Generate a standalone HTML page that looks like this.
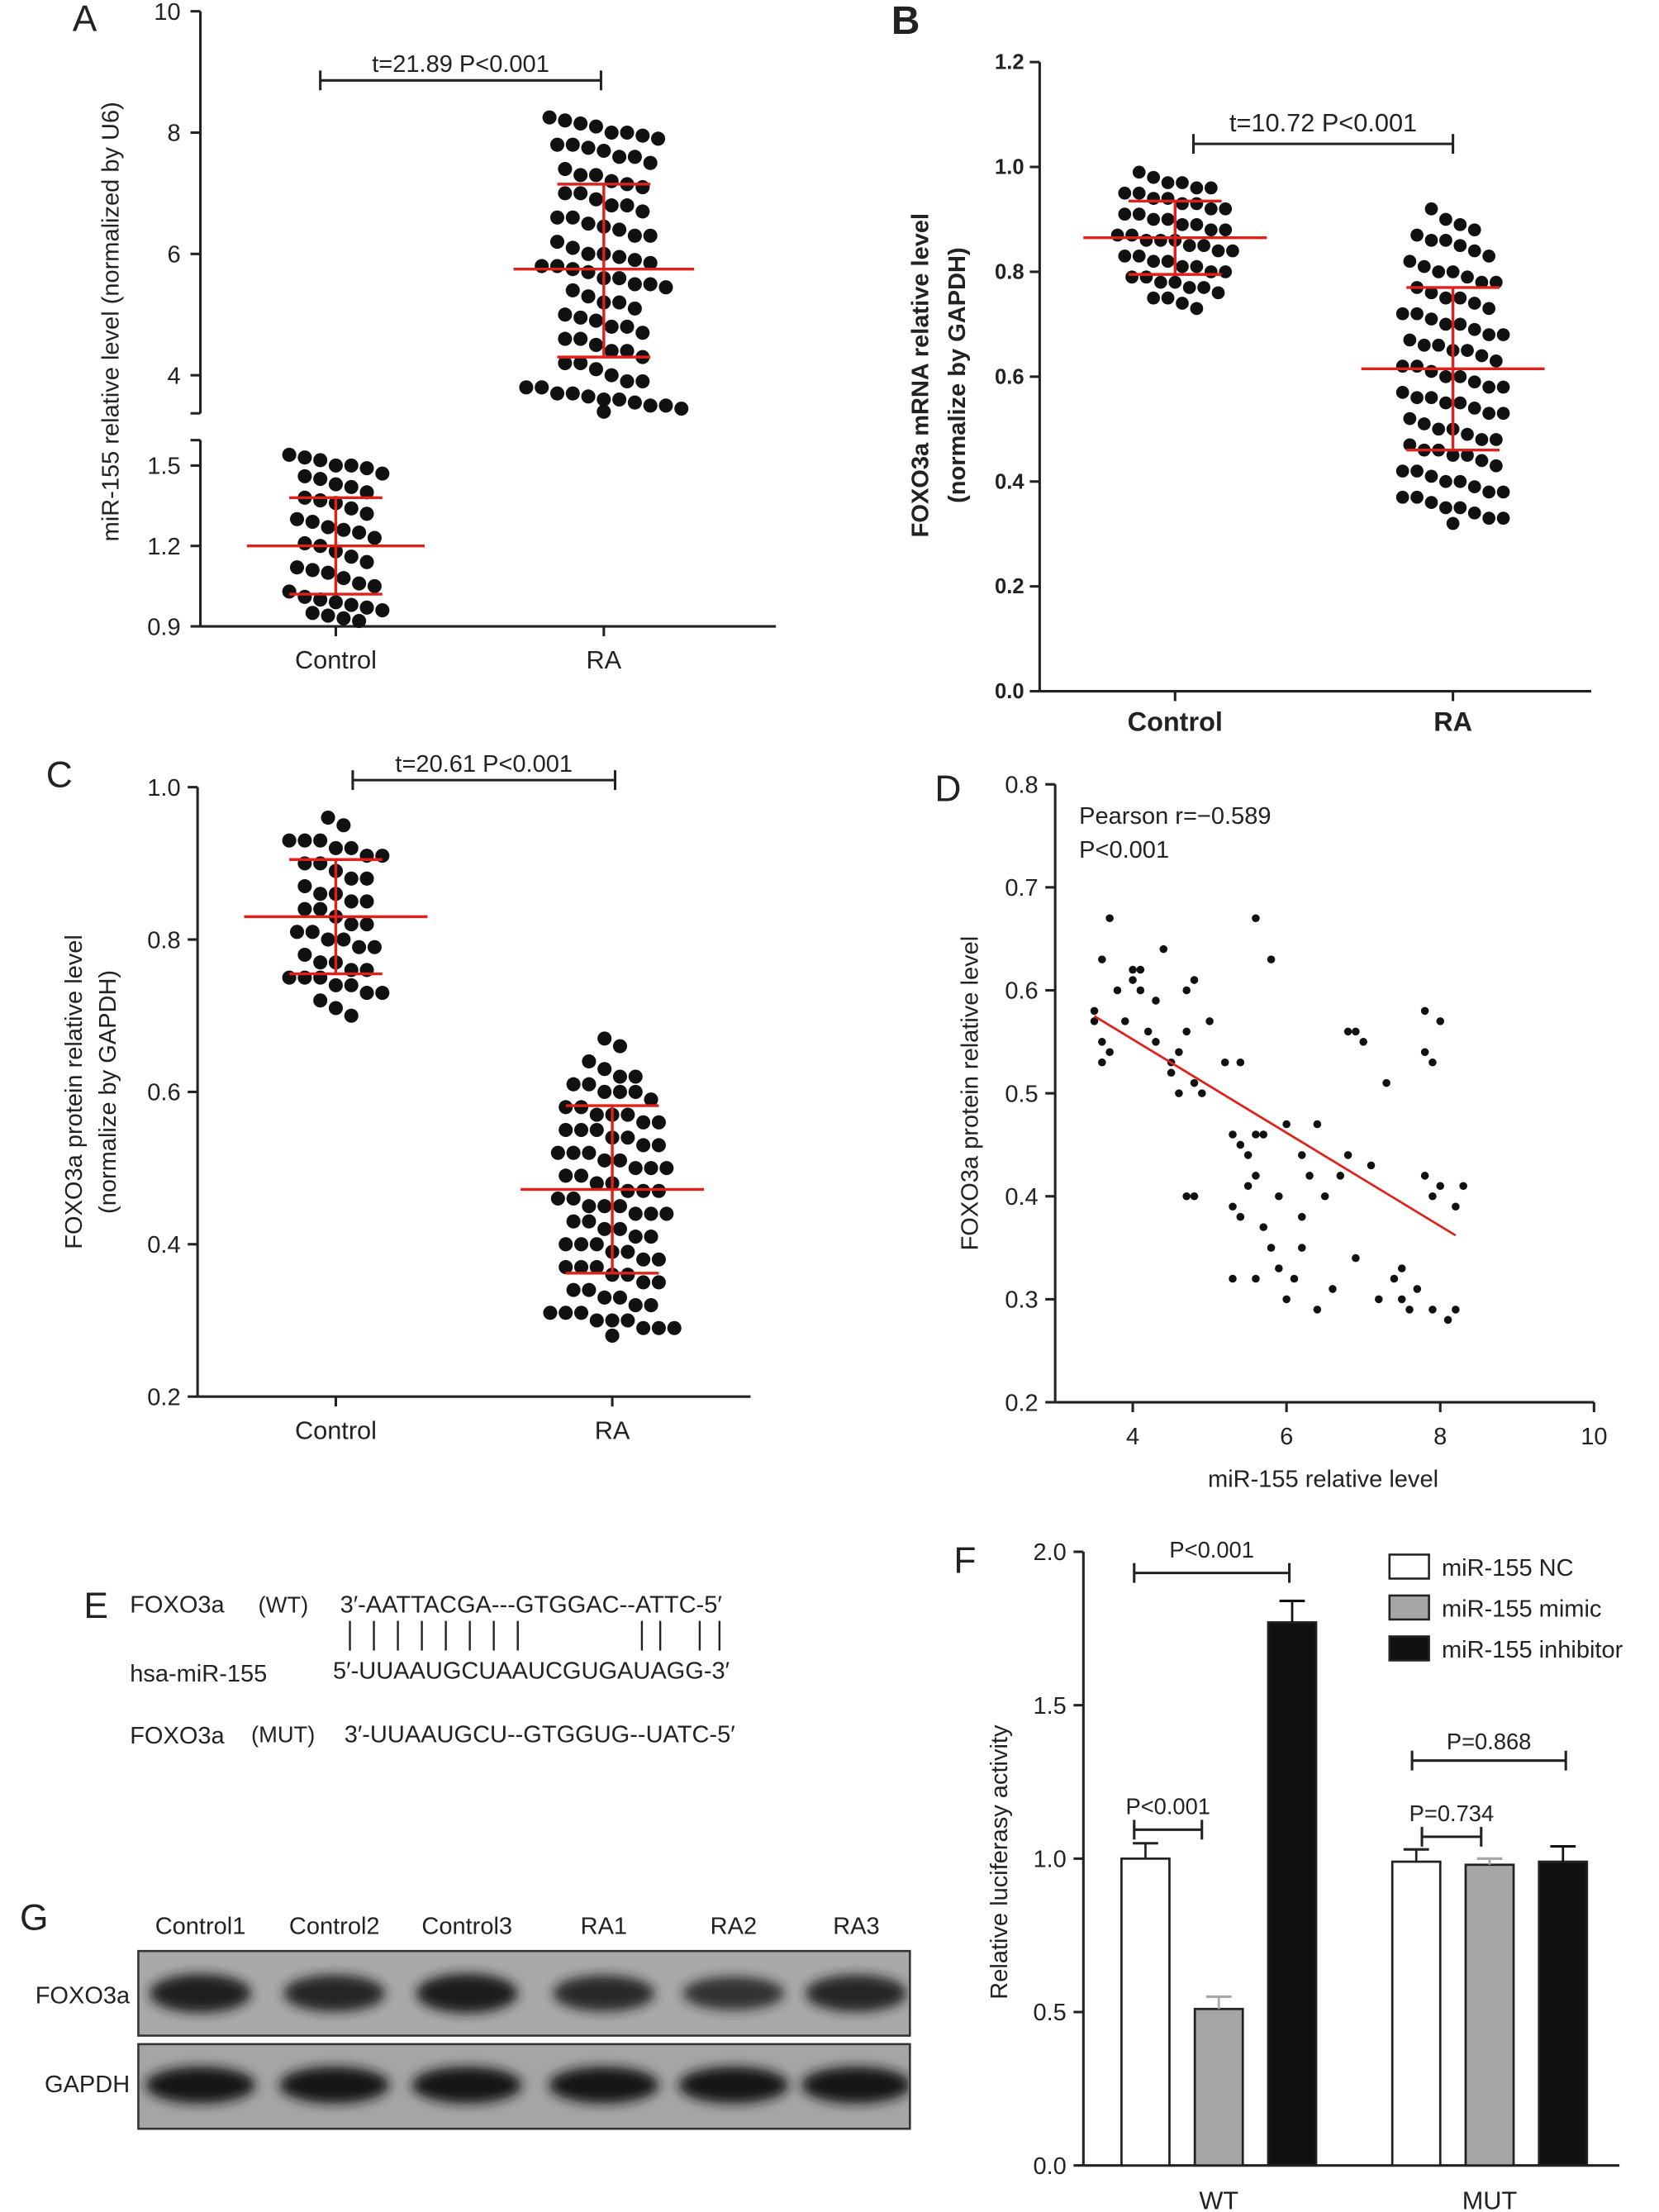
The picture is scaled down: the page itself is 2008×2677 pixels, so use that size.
<!DOCTYPE html>
<html><head><meta charset="utf-8">
<style>
html,body{margin:0;padding:0;background:#fff;}
svg{display:block;}
text{font-family:"Liberation Sans",Arial,sans-serif;fill:#222;}
</style></head>
<body>
<svg id="fig" width="2008" height="2677" viewBox="0 0 1176 1568" xmlns="http://www.w3.org/2000/svg">
<defs><filter id="blur" x="-30%" y="-60%" width="160%" height="220%"><feGaussianBlur stdDeviation="4"/></filter>
<clipPath id="clipF"><rect x="99" y="1384" width="545" height="58"/></clipPath>
<clipPath id="clipG"><rect x="99" y="1450" width="545" height="58"/></clipPath></defs>
</svg>
<script>
// ---------- DATA ----------
const groups = ["Control","RA"];
const aControl=[1.54,1.53,1.52,1.50,1.50,1.49,1.47,1.46,1.45,1.43,1.42,1.40,1.38,1.37,1.36,1.34,1.32,1.30,1.29,1.27,1.25,1.23,1.21,1.20,1.18,1.16,1.14,1.12,1.10,1.08,1.06,1.05,1.03,1.01,1.00,0.99,0.98,0.97,0.96,0.95,0.94,0.93,0.92,1.26,1.11];
const aRA=[8.25,8.2,8.15,8.0,8.0,7.95,7.9,7.8,7.75,7.7,7.6,7.5,7.4,7.3,7.2,7.15,7.1,7.0,6.9,6.8,6.7,6.6,6.5,6.45,6.4,6.3,6.2,6.1,6.0,5.95,5.9,5.85,5.8,5.75,5.7,5.6,5.5,5.45,5.4,5.3,5.2,5.1,5.0,4.95,4.9,4.8,4.7,4.6,4.5,4.4,4.3,4.2,4.1,4.0,3.9,3.8,3.7,3.65,3.6,3.55,3.5,3.45,3.4,7.6,7.0,6.6,6.0,5.8,5.2,4.8,4.2,3.7,3.6,8.1,7.3,6.3,5.5,4.6,3.8,3.5,7.8,6.8,5.6,4.4,3.9];
const aStats={control:[1.20,1.38,1.02],ra:[5.75,7.15,4.30]};
const bControl=[0.99,0.98,0.97,0.97,0.96,0.96,0.95,0.95,0.94,0.94,0.93,0.93,0.92,0.92,0.91,0.91,0.90,0.90,0.89,0.89,0.88,0.88,0.87,0.87,0.86,0.86,0.85,0.85,0.84,0.84,0.83,0.83,0.82,0.82,0.81,0.81,0.80,0.80,0.79,0.79,0.78,0.78,0.77,0.77,0.76,0.75,0.75,0.74,0.73,0.86];
const bRA=[0.92,0.90,0.89,0.88,0.87,0.86,0.85,0.84,0.83,0.82,0.81,0.80,0.79,0.78,0.77,0.76,0.75,0.74,0.73,0.72,0.71,0.70,0.69,0.68,0.67,0.66,0.65,0.64,0.63,0.62,0.61,0.60,0.59,0.58,0.57,0.56,0.55,0.54,0.53,0.52,0.51,0.50,0.49,0.48,0.47,0.46,0.45,0.44,0.43,0.42,0.41,0.40,0.39,0.38,0.37,0.36,0.35,0.34,0.33,0.32,0.80,0.78,0.75,0.72,0.70,0.68,0.65,0.62,0.60,0.58,0.55,0.53,0.50,0.48,0.45,0.42,0.40,0.37,0.35,0.33,0.86,0.66,0.56,0.46,0.38];
const bStats={control:[0.865,0.935,0.795],ra:[0.615,0.77,0.46]};
const cControl=[0.96,0.95,0.93,0.93,0.93,0.92,0.92,0.91,0.90,0.90,0.89,0.88,0.87,0.86,0.85,0.85,0.84,0.83,0.82,0.81,0.80,0.80,0.79,0.78,0.77,0.76,0.75,0.75,0.75,0.74,0.74,0.73,0.72,0.71,0.70,0.88,0.86,0.84,0.82,0.79,0.77,0.76,0.73,0.91,0.81];
const cRA=[0.67,0.66,0.64,0.63,0.62,0.61,0.60,0.60,0.59,0.58,0.57,0.57,0.56,0.55,0.55,0.54,0.53,0.52,0.52,0.51,0.50,0.50,0.49,0.48,0.47,0.47,0.46,0.45,0.45,0.44,0.43,0.42,0.42,0.41,0.40,0.40,0.39,0.38,0.37,0.37,0.36,0.35,0.34,0.33,0.32,0.31,0.30,0.30,0.29,0.28,0.62,0.58,0.55,0.53,0.50,0.48,0.46,0.44,0.41,0.39,0.36,0.33,0.31,0.29,0.60,0.56,0.51,0.47,0.43,0.38,0.35,0.32,0.30,0.61,0.54,0.49,0.45,0.40,0.34,0.29,0.57,0.52,0.44,0.37,0.31];
const cStats={control:[0.83,0.905,0.755],ra:[0.472,0.582,0.362]};
const dX=[3.5,3.6,3.7,3.6,3.7,3.6,3.8,3.9,4.0,4.0,4.1,4.1,4.2,4.3,4.4,4.3,4.5,4.5,4.6,4.6,4.7,4.7,4.8,4.8,4.9,4.7,4.8,5.0,5.2,5.4,5.3,5.4,5.3,5.4,5.3,5.5,5.6,5.7,5.6,5.5,5.6,5.7,5.8,5.9,6.0,5.9,6.0,6.1,6.2,6.2,6.3,6.4,6.4,6.5,6.6,6.7,6.8,6.9,7.0,6.8,6.9,7.1,7.3,7.4,7.5,7.6,7.5,7.7,7.8,7.8,7.9,7.8,7.9,7.9,8.0,8.0,8.1,8.2,8.2,8.3,5.6,5.8,6.2,7.2,3.5];
const dY=[0.57,0.63,0.67,0.55,0.54,0.53,0.60,0.57,0.62,0.61,0.62,0.60,0.56,0.55,0.64,0.59,0.53,0.52,0.50,0.54,0.56,0.60,0.61,0.51,0.50,0.40,0.40,0.57,0.53,0.53,0.46,0.45,0.39,0.38,0.32,0.44,0.46,0.46,0.42,0.41,0.32,0.37,0.35,0.33,0.47,0.40,0.30,0.32,0.44,0.35,0.42,0.47,0.29,0.40,0.31,0.42,0.56,0.56,0.55,0.44,0.34,0.43,0.51,0.32,0.30,0.29,0.33,0.31,0.58,0.54,0.53,0.42,0.40,0.29,0.57,0.41,0.28,0.29,0.39,0.41,0.67,0.63,0.38,0.30,0.58];
const dFit=[[3.5,0.575],[8.2,0.362]];
const fGroups=["WT","MUT"];
const fSeries=["miR-155 NC","miR-155 mimic","miR-155 inhibitor"];
const fValues=[[1.00,0.51,1.77],[0.99,0.98,0.99]];
const fErrors=[[0.05,0.04,0.07],[0.04,0.02,0.05]];
const blotLanes=["Control1","Control2","Control3","RA1","RA2","RA3"];
const foxoIntensity=[0.95,0.85,1.0,0.8,0.65,0.85];
const gapdhIntensity=[1.0,1.0,1.0,1.0,1.0,1.0];

// ---------- HELPERS ----------
const svg=document.getElementById('fig');
const NS='http://www.w3.org/2000/svg';
function mk(tag,attrs,parent){const e=document.createElementNS(NS,tag);for(const k in attrs)e.setAttribute(k,attrs[k]);(parent||svg).appendChild(e);return e;}
function line(x1,y1,x2,y2,c,w,p){return mk('line',{x1,y1,x2,y2,stroke:c||'#222','stroke-width':w||1.5},p);}
function txt(x,y,s,size,anchor,p,extra){const t=mk('text',Object.assign({x,y,'font-size':size||17,'text-anchor':anchor||'middle'},extra||{}),p);t.textContent=s;return t;}
function grp(name){const g=mk('g',{});return g;}
function swarm(vals,cx,yf,g,name,r,binH){
  r=r||5.3;const dia=r*2+1;binH=binH||dia;
  const pts=vals.map(v=>({v,y:yf(v)})).sort((a,b)=>a.y-b.y);
  const bins=[];pts.forEach(p=>{const last=bins[bins.length-1];if(last&&p.y-last.y0<binH)last.items.push(p);else bins.push({y0:p.y,items:[p]});});
  bins.forEach(b=>{const n=b.items.length;b.items.forEach((p,i)=>{const c=mk('circle',{cx:cx+(i-(n-1)/2)*dia,cy:p.y,r,fill:'#111'},g);});});
}
function meanSD(cx,st,yf,g,half,sdHalf){
  line(cx-half,yf(st[0]),cx+half,yf(st[0]),'#e0201b',2,g);
  line(cx-sdHalf,yf(st[1]),cx+sdHalf,yf(st[1]),'#e0201b',2,g);
  line(cx-sdHalf,yf(st[2]),cx+sdHalf,yf(st[2]),'#e0201b',2,g);
  line(cx,yf(st[1]),cx,yf(st[2]),'#e0201b',2,g);
}
function bracket(x1,x2,y,label,g,ty,size){line(x1,y,x2,y,'#222',1.8,g);line(x1,y-7,x1,y+7,'#222',1.8,g);line(x2,y-7,x2,y+7,'#222',1.8,g);txt((x1+x2)/2,ty,label,size||17,'middle',g);}

// ---------- PANEL A ----------
{const g=grp('panel-a');
 const yU=v=>266-(v-4)*43, yL=v=>444-(v-0.9)*(114/0.6);
 txt(60,22,'A',26,'middle',g);
 line(142,8,142,293,'#222',1.8,g);line(142,312,142,444,'#222',1.8,g);
 [10,8,6,4].forEach(v=>{line(135,yU(v),142,yU(v),'#222',1.8,g);txt(128,yU(v)+6,String(v),17,'end',g);});
 [1.5,1.2,0.9].forEach(v=>{line(135,yL(v),142,yL(v),'#222',1.8,g);txt(128,yL(v)+6,v.toFixed(1),17,'end',g);});
 line(135,293,142,293,'#222',1.8,g);line(135,312,142,312,'#222',1.8,g);
 line(142,444,550,444,'#222',1.8,g);
 [238,428].forEach((x,i)=>{line(x,444,x,451,'#222',1.8,g);txt(x,474,groups[i],18,'middle',g);});
 txt(0,0,'miR-155 relative level (normalized by U6)',17,'middle',g,{transform:'translate(84,228) rotate(-90)'});
 bracket(227,426,57,'t=21.89 P<0.001',g,51);
 swarm(aControl,238,yL,g,'control-dot',5,15);swarm(aRA,428,yU,g,'ra-dot',5,16);
 meanSD(238,aStats.control,yL,g,63,33);meanSD(428,aStats.ra,yU,g,64,33);
}
// ---------- PANEL B ----------
{const g=grp('panel-b');
 const y=v=>490-v*(446/1.2);
 txt(642,24,'B',28,'middle',g,{'font-weight':'bold'});
 line(737,44,737,490,'#222',1.8,g);line(737,490,1128,490,'#222',1.8,g);
 [0,0.2,0.4,0.6,0.8,1.0,1.2].forEach(v=>{line(730,y(v),737,y(v),'#222',1.8,g);txt(726,y(v)+5,v.toFixed(1),15,'end',g,{'font-weight':'bold'});});
 [833,1030].forEach((x,i)=>{line(x,490,x,497,'#222',1.8,g);txt(x,518,groups[i],19,'middle',g,{'font-weight':'bold'});});
 txt(0,0,'FOXO3a mRNA relative level',17,'middle',g,{transform:'translate(658,266) rotate(-90)','font-weight':'bold'});
 txt(0,0,'(normalize by GAPDH)',17,'middle',g,{transform:'translate(684,266) rotate(-90)','font-weight':'bold'});
 bracket(846,1030,102,'t=10.72 P<0.001',g,93,18);
 swarm(bControl,833,y,g,'control-dot',4.6,14);swarm(bRA,1030,y,g,'ra-dot',4.6,15);
 meanSD(833,bStats.control,y,g,65,33);meanSD(1030,bStats.ra,y,g,65,33);
}
// ---------- PANEL C ----------
{const g=grp('panel-c');
 const y=v=>990-(v-0.2)*540;
 txt(42,558,'C',26,'middle',g);
 line(140,558,140,990,'#222',1.8,g);line(140,990,532,990,'#222',1.8,g);
 [0.2,0.4,0.6,0.8,1.0].forEach(v=>{line(133,y(v),140,y(v),'#222',1.8,g);txt(128,y(v)+6,v.toFixed(1),17,'end',g);});
 [238,434].forEach((x,i)=>{line(x,990,x,997,'#222',1.8,g);txt(x,1020,groups[i],18,'middle',g);});
 txt(0,0,'FOXO3a protein relative level',17,'middle',g,{transform:'translate(58,774) rotate(-90)'});
 txt(0,0,'(normalize by GAPDH)',17,'middle',g,{transform:'translate(82,774) rotate(-90)'});
 bracket(250,436,553,'t=20.61 P<0.001',g,547);
 swarm(cControl,238,y,g,'control-dot',5,15);swarm(cRA,434,y,g,'ra-dot',5,16);
 meanSD(238,cStats.control,y,g,65,33);meanSD(434,cStats.ra,y,g,65,33);
}
// ---------- PANEL D ----------
{const g=grp('panel-d');
 const x=v=>803+(v-4)*54.5, y=v=>994-(v-0.2)*730;
 txt(672,568,'D',26,'middle',g);
 line(748,556,748,994,'#222',1.8,g);line(748,994,1130,994,'#222',1.8,g);
 [0.2,0.3,0.4,0.5,0.6,0.7,0.8].forEach(v=>{line(741,y(v),748,y(v),'#222',1.8,g);txt(736,y(v)+6,v.toFixed(1),17,'end',g);});
 [4,6,8,10].forEach(v=>{line(x(v),994,x(v),1001,'#222',1.8,g);txt(x(v),1024,String(v),17,'middle',g);});
 txt(938,1054,'miR-155 relative level',17,'middle',g);
 txt(0,0,'FOXO3a protein relative level',17,'middle',g,{transform:'translate(693,775) rotate(-90)'});
 txt(765,584,'Pearson r=\u22120.589',17,'start',g);txt(765,608,'P<0.001',17,'start',g);
 dX.forEach((v,i)=>{const c=mk('circle',{cx:x(v),cy:y(dY[i]),r:2.8,fill:'#111'},g);});
 const fl=line(x(dFit[0][0]),y(dFit[0][1]),x(dFit[1][0]),y(dFit[1][1]),'#e0201b',1.6,g);
 
}
// ---------- PANEL E ----------
{const g=grp('panel-e-sequences');
 txt(68,1147,'E',26,'middle',g);
 txt(92,1143,'FOXO3a',17,'start',g);txt(183,1143,'(WT)',16,'start',g);
 txt(241,1143,'3\u2032-AATTACGA---GTGGAC--ATTC-5\u2032',17,'start',g);
 [248,265,282,299,316,333,350,367,455,468,496,510].forEach(xx=>{line(xx,1149,xx,1170,'#222',1.4,g);});
 txt(92,1192,'hsa-miR-155',17,'start',g);
 txt(236,1190,'5\u2032-UUAAUGCUAAUCGUGAUAGG-3\u2032',17,'start',g);
 txt(92,1236,'FOXO3a',17,'start',g);txt(178,1235,'(MUT)',16,'start',g);
 txt(244,1235,'3\u2032-UUAAUGCU--GTGGUG--UATC-5\u2032',17,'start',g);
}
// ---------- PANEL F ----------
{const g=grp('panel-f');
 const y=v=>1535-v*217.5;
 txt(684,1115,'F',26,'middle',g);
 line(768,1100,768,1535,'#222',1.8,g);line(768,1535,1148,1535,'#222',1.8,g);
 [0,0.5,1.0,1.5,2.0].forEach(v=>{line(761,y(v),768,y(v),'#222',1.8,g);txt(756,y(v)+6,v.toFixed(1),17,'end',g);});
 txt(0,0,'Relative luciferasy activity',17,'middle',g,{transform:'translate(714,1320) rotate(-90)'});
 const fills=['#fff','#a6a6a6','#111'];const gx=[795,987];const bw=34,step=52;
 fValues.forEach((vals,gi)=>{vals.forEach((v,si)=>{const x0=gx[gi]+si*step;
   const r=mk('rect',{x:x0,y:y(v),width:bw,height:y(0)-y(v),fill:fills[si],stroke:'#222','stroke-width':1.6},g);
   
   const cx=x0+bw/2,top=y(v+fErrors[gi][si]);
   line(cx,y(v),cx,top,si==0?'#222':fills[si],1.6,g);line(cx-9,top,cx+9,top,si==0?'#222':fills[si],1.8,g);
 });txt(gx[gi]+bw/2+step,1566,fGroups[gi],18,'middle',g);});
 bracket(804,914,1115,'P<0.001',g,1104,16);
 bracket(804,852,1297,'P<0.001',g,1286,16);
 bracket(1001,1110,1248,'P=0.868',g,1240,16);
 bracket(1008,1050,1302,'P=0.734',g,1291,16);
 fSeries.forEach((s,i)=>{const ly=1102+i*29;const r=mk('rect',{x:985,y:ly,width:28,height:17,fill:fills[i],stroke:'#222','stroke-width':1.5},g);txt(1022,ly+15,s,17,'start',g);});
}
// ---------- PANEL G ----------
{const g=grp('panel-g-blot');
 txt(14,1368,'G',26,'start',g);
 blotLanes.forEach((l,i)=>txt([142,237,331,428,520,607][i],1371,l,17,'middle',g));
 txt(92,1420,'FOXO3a',17,'end',g);txt(92,1483,'GAPDH',17,'end',g);
 mk('rect',{x:98,y:1383,width:547,height:60,fill:'#a9a9a9',stroke:'#333','stroke-width':1.5},g);
 mk('rect',{x:98,y:1449,width:547,height:60,fill:'#a5a5a5',stroke:'#333','stroke-width':1.5},g);
 const gf=mk('g',{'clip-path':'url(#clipF)'},g), gg=mk('g',{'clip-path':'url(#clipG)'},g);
 const lx=[142,237,331,428,520,607];
 foxoIntensity.forEach((v,i)=>{const b=mk('ellipse',{cx:lx[i],cy:1413,rx:36,ry:8+6*v,fill:'#1a1a1a',opacity:0.55+0.45*v,filter:'url(#blur)'},gf);});
 gapdhIntensity.forEach((v,i)=>{const b=mk('ellipse',{cx:lx[i],cy:1478,rx:39,ry:13*v,fill:'#151515',filter:'url(#blur)'},gg);});
}
</script>
</body></html>
